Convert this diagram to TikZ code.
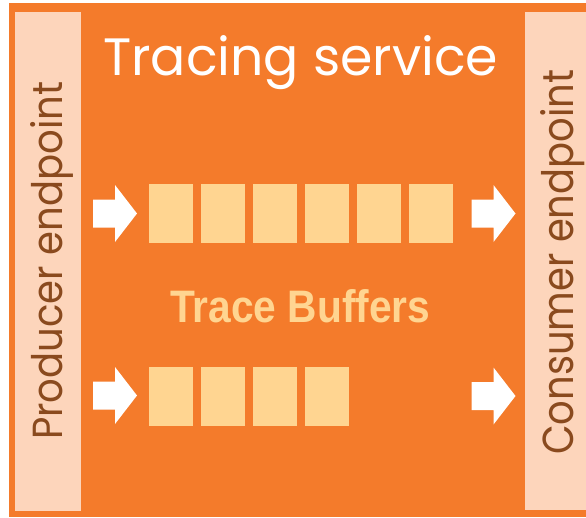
\documentclass[tikz,border=0pt]{standalone}
\usepackage{graphicx}
\usepackage{fontspec}
\newfontfamily\geofont{Poppins}
\newfontfamily\boldsans{Liberation Sans}
\definecolor{svcorange}{HTML}{F47B2B}
\definecolor{barpeach}{HTML}{FDD5BB}
\definecolor{bufyellow}{HTML}{FFD591}
\definecolor{endbrown}{HTML}{8A4A1E}
\tikzset{
  endbar/.style={fill=barpeach, draw=none},
  bufslot/.style={fill=bufyellow, draw=none, inner sep=0pt, minimum width=44pt,
    minimum height=59pt, anchor=north west},
  fatarrow/.pic={\fill[white] (0,-14)--(22,-14)--(22,-28.5)--(44,0)--(22,28.5)--(22,14)--(0,14)--cycle;},
  label text/.style={inner sep=0pt, anchor=base west},
}
\begin{document}
\begin{tikzpicture}[x=1pt,y=-1pt]
  \useasboundingbox (0,0) rectangle (586,517);
  \fill[white] (0,0) rectangle (586,517);
  % service body
  \fill[svcorange] (9,3) rectangle (586,517);
  % endpoint bars
  \fill[endbar] (15,12) rectangle (81,511);
  \fill[endbar] (525,12) rectangle (586,510);

  \node[label text, text=white] (title) at (103,75)
    {\resizebox{395pt}{40pt}{\geofont Tracing service}};
  \node[label text, text=bufyellow] (buffers) at (170,322)
    {\resizebox{260pt}{33pt}{\boldsans\bfseries Trace Buffers}};
  \node[label text, text=endbrown, rotate=90] (producer) at (62,440)
    {\resizebox{358pt}{32pt}{\geofont Producer endpoint}};
  \node[label text, text=endbrown, rotate=90] (consumer) at (573,455)
    {\resizebox{385pt}{33pt}{\geofont Consumer endpoint}};

  % first buffer: six slots
  \foreach \i in {0,...,5}
    \node[bufslot] (a\i) at (149+52*\i,184) {};
  % second buffer: four slots
  \foreach \i in {0,...,3}
    \node[bufslot] (b\i) at (149+52*\i,367) {};

  % write and read arrows
  \pic at (93,213.5) {fatarrow};
  \pic at (471.5,213.5) {fatarrow};
  \pic at (93,395.5) {fatarrow};
  \pic at (471.5,396) {fatarrow};
\end{tikzpicture}
\end{document}
